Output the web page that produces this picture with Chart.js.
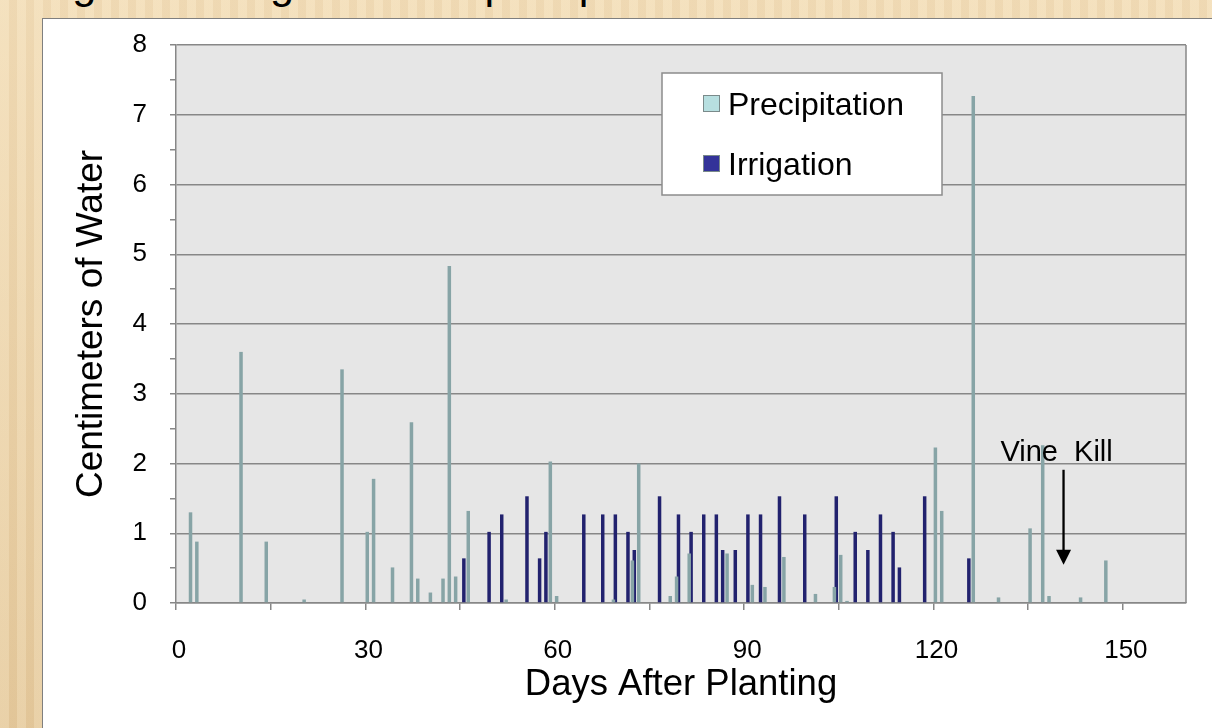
<!DOCTYPE html>
<html>
<head>
<meta charset="utf-8">
<title>Irrigation and precipitation</title>
<script src="https://cdn.jsdelivr.net/npm/chart.js@4.4.0/dist/chart.umd.min.js"></script>
<style>
  html, body { margin: 0; padding: 0; width: 1212px; height: 728px; overflow: hidden; }
  body {
    position: relative;
    font-family: "Liberation Sans", Arial, sans-serif;
    background-color: #ebd3a9;
    background-image:
      linear-gradient(180deg, rgba(255, 240, 212, 0.35), rgba(196, 150, 90, 0.12)),
      repeating-linear-gradient(90deg, rgba(255, 246, 225, 0.18) 0 9px, rgba(170, 120, 60, 0.08) 9px 17px);
  }
  #slide-title {
    position: absolute; left: 36px; top: -37.7px;
    font-size: 43.4px; line-height: 43.4px; white-space: nowrap; color: #000;
  }
  #panel {
    position: absolute; left: 42px; top: 18px; width: 1200px; height: 740px;
    background: #fff; border: 1.5px solid #7f7f7f;
  }
  #chart-wrap { position: absolute; left: 0; top: 0; width: 1212px; height: 728px; }
</style>
</head>
<body>
<div id="slide-title">Figure 1. Irrigation and precipitation</div>
<div id="panel"></div>
<div id="chart-wrap"><canvas id="water-chart" width="1212" height="728"></canvas></div>

<script>
// Water applied per day after planting (cm)
const precipDays = [2, 3, 10, 14, 20, 26, 30, 31, 34, 37, 38, 40, 42, 43, 44, 46, 52, 59, 60, 69,
  72, 73, 78, 79, 81, 87, 91, 93, 96, 101, 104, 105, 106, 120, 121, 126, 130, 135, 137, 138, 143, 147];
const precipCm = [1.30, 0.88, 3.60, 0.88, 0.05, 3.35, 1.02, 1.78, 0.51, 2.59, 0.35, 0.15, 0.35, 4.83, 0.38, 1.32, 0.05, 2.03, 0.10, 0.05,
  0.61, 2.00, 0.10, 0.38, 0.71, 0.71, 0.26, 0.23, 0.66, 0.13, 0.23, 0.69, 0.03, 2.23, 1.32, 7.27, 0.08, 1.07, 2.26, 0.10, 0.08, 0.61];

const irrigDays = [45, 49, 51, 55, 57, 58, 64, 67, 69, 71, 72, 76, 79, 81, 83, 85, 86, 88, 90, 92,
  95, 99, 104, 107, 109, 111, 113, 114, 118, 125];
const irrigCm = [0.64, 1.02, 1.27, 1.53, 0.64, 1.02, 1.27, 1.27, 1.27, 1.02, 0.76, 1.53, 1.27, 1.02, 1.27, 1.27, 0.76, 0.76, 1.27, 1.27,
  1.53, 1.27, 1.53, 1.02, 0.76, 1.27, 1.02, 0.51, 1.53, 0.64];

const seriesNames = ['Precipitation', 'Irrigation'];
const dayRange = [0, 160];
const xTickStep = 15;      // tick marks every 15 days
const xLabelStep = 30;     // labels every 30 days
const yRange = [0, 8];
const yTickStep = 0.5;     // minor ticks on the value axis
const daySlotCentre = 0.45; // each day's bars sit inside its slot, like Excel's date axis

// "Vine Kill" note: day and heights (cm) of the arrow
const vineKill = { text: 'Vine  Kill', day: 140.6, labelDay: 139.5, labelY: 2.03, arrowTop: 1.91, arrowTip: 0.55 };

const FONT = '"Liberation Sans", Arial, sans-serif';
const GRID = '#878787';

function toPoints(days, values) {
  return days.map((d, i) => ({ x: d, y: values[i] }));
}

// Grey plot area and its right edge
const plotFrame = {
  id: 'plotFrame',
  beforeDraw(chart) {
    const { ctx, chartArea: a } = chart;
    ctx.save();
    ctx.fillStyle = '#e6e6e6';
    ctx.fillRect(a.left, a.top, a.width, a.height);
    ctx.restore();
  },
  afterDraw(chart) {
    const { ctx, chartArea: a } = chart;
    ctx.save();
    ctx.strokeStyle = GRID;
    ctx.lineWidth = 1.5;
    ctx.beginPath();
    ctx.moveTo(a.right, a.top);
    ctx.lineTo(a.right, a.bottom);
    ctx.stroke();
    ctx.restore();
  }
};

// Boxed legend inside the plot (Excel style)
const boxLegend = {
  id: 'boxLegend',
  afterDatasetsDraw(chart) {
    const { ctx, chartArea: a } = chart;
    const x = a.left + 486, y = a.top + 28, w = 280, h = 122;
    const swatches = ['#b7dfe0', '#333399'];
    ctx.save();
    ctx.fillStyle = '#fff';
    ctx.fillRect(x, y, w, h);
    ctx.strokeStyle = '#8c8c8c';
    ctx.lineWidth = 1.5;
    ctx.strokeRect(x, y, w, h);
    ctx.font = '32px ' + FONT;
    ctx.textBaseline = 'alphabetic';
    seriesNames.forEach((name, i) => {
      const base = y + 42 + i * 60;
      ctx.fillStyle = swatches[i];
      ctx.fillRect(x + 41, base - 20, 17, 17);
      ctx.strokeStyle = '#7a8a8a';
      ctx.lineWidth = 1;
      ctx.strokeRect(x + 41.5, base - 19.5, 16, 16);
      ctx.fillStyle = '#000';
      ctx.fillText(name, x + 66, base);
    });
    ctx.restore();
  }
};

// "Vine Kill" text and arrow
const vineKillNote = {
  id: 'vineKillNote',
  afterDatasetsDraw(chart) {
    const { ctx } = chart;
    const xs = chart.scales.x, ys = chart.scales.y;
    const ax = xs.getPixelForValue(vineKill.day);
    const top = ys.getPixelForValue(vineKill.arrowTop);
    const tip = ys.getPixelForValue(vineKill.arrowTip);
    ctx.save();
    ctx.fillStyle = '#000';
    ctx.strokeStyle = '#000';
    ctx.font = '29px ' + FONT;
    ctx.textAlign = 'center';
    ctx.textBaseline = 'alphabetic';
    ctx.fillText(vineKill.text, xs.getPixelForValue(vineKill.labelDay), ys.getPixelForValue(vineKill.labelY));
    ctx.lineWidth = 2.3;
    ctx.beginPath();
    ctx.moveTo(ax, top);
    ctx.lineTo(ax, tip - 12);
    ctx.stroke();
    ctx.beginPath();
    ctx.moveTo(ax - 7.5, tip - 15);
    ctx.lineTo(ax + 7.5, tip - 15);
    ctx.lineTo(ax, tip);
    ctx.closePath();
    ctx.fill();
    ctx.restore();
  }
};

const barStyle = { categoryPercentage: 0.6, barPercentage: 1.85, xAxisID: 'daySlots' };

const chart = new Chart(document.getElementById('water-chart'), {
  type: 'bar',
  data: {
    datasets: [
      Object.assign({ label: seriesNames[0], data: toPoints(precipDays, precipCm), backgroundColor: '#87a4a6' }, barStyle),
      Object.assign({ label: seriesNames[1], data: toPoints(irrigDays, irrigCm), backgroundColor: '#22226e' }, barStyle)
    ]
  },
  options: {
    responsive: false,
    animation: false,
    events: [],
    layout: { padding: { top: 45, right: 26, left: 0, bottom: 0 } },
    plugins: {
      legend: { display: false },
      tooltip: { enabled: false }
    },
    scales: {
      // hidden axis the bars are placed on: same days, centred in each day's slot
      daySlots: {
        type: 'linear',
        display: false,
        min: dayRange[0] - daySlotCentre,
        max: dayRange[1] - daySlotCentre,
        offset: false
      },
      x: {
        type: 'linear',
        min: dayRange[0],
        max: dayRange[1],
        offset: false,
        afterFit(scale) { scale.height = 125; },
        border: { color: GRID, width: 1.5 },
        grid: { offset: false, drawOnChartArea: false, color: GRID, tickLength: 7, lineWidth: 1.5 },
        ticks: {
          stepSize: xTickStep,
          includeBounds: false,
          autoSkip: false,
          maxRotation: 0,
          padding: 25,
          labelOffset: 3,
          color: '#000',
          font: { family: FONT, size: 26 },
          callback: v => (v % xLabelStep === 0 ? String(v) : '')
        },
        title: {
          display: true,
          text: 'Days After Planting',
          color: '#000',
          font: { family: FONT, size: 36.5 },
          padding: { top: 0, bottom: 21 }
        }
      },
      y: {
        min: yRange[0],
        max: yRange[1],
        afterFit(scale) { scale.width = 176; },
        border: { color: GRID, width: 1.5 },
        grid: {
          color: c => (c.tick && Number.isInteger(c.tick.value) ? GRID : 'rgba(0,0,0,0)'),
          tickColor: GRID,
          lineWidth: 1.5,
          tickLength: 6
        },
        ticks: {
          stepSize: yTickStep,
          autoSkip: false,
          padding: 23,
          color: '#000',
          font: { family: FONT, size: 26 },
          callback: v => (Number.isInteger(v) ? String(v) : '')
        },
        title: {
          display: true,
          text: 'Centimeters of Water',
          color: '#000',
          font: { family: FONT, size: 37 },
          padding: { top: 70, bottom: 0 }
        }
      }
    }
  },
  plugins: [plotFrame, boxLegend, vineKillNote]
});
</script>
</body>
</html>
